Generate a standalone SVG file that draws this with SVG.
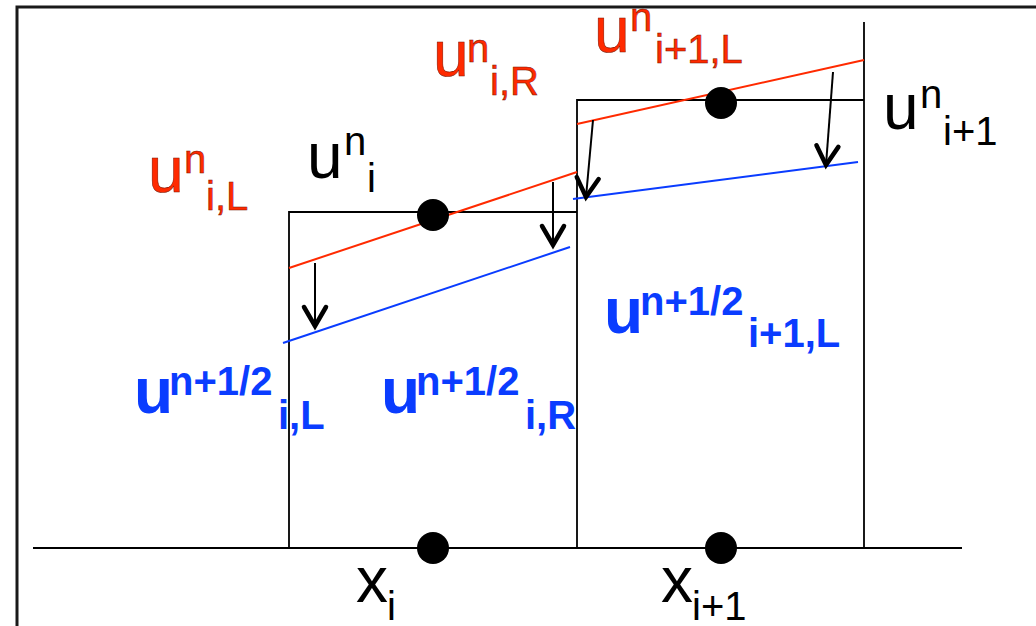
<svg xmlns="http://www.w3.org/2000/svg" width="1036" height="626" viewBox="0 0 1036 626">
<style>
text{font-family:"Liberation Sans",Arial,sans-serif}
.big{font-size:64px}
.sm{font-size:40px}
.blk{fill:#000}
.red{fill:#ff2a00;stroke:#7a1400;stroke-width:0.5}
.blu{fill:#0a3cff;font-weight:bold}
.box{fill:none;stroke:#000;stroke-width:1.8}
.rl{stroke:#ff2a00;stroke-width:2;fill:none}
.bl{stroke:#0a3cff;stroke-width:2;fill:none}
.arr{stroke:#000;stroke-width:2;fill:none;marker-end:url(#head)}
.dot{fill:#000}
</style>
<defs>
<marker id="head" markerUnits="userSpaceOnUse" markerWidth="40" markerHeight="40" viewBox="-30 -20 40 40" refX="0" refY="0" orient="auto" overflow="visible">
<path d="M-19,-11 L0,0 L-19,11" fill="none" stroke="#000" stroke-width="4.5" stroke-linecap="round" stroke-linejoin="miter"/>
</marker>
</defs>
<rect width="1036" height="626" fill="#fff"/>
<rect id="frame" x="17" y="7" width="1040" height="650" fill="none" stroke="#1a1a1a" stroke-width="3"/>

<g id="axis">
<line x1="33" y1="548" x2="962" y2="548" stroke="#000" stroke-width="2"/>
</g>

<g id="cell-i">
<polyline class="box" points="289,548 289,212 577,212"/>
</g>
<g id="cell-i1">
<polyline class="box" points="577,548 577,100 864,100"/>
<line class="box" x1="864" y1="22" x2="864" y2="548"/>
</g>

<g id="connectors">
<line class="rl" x1="289" y1="268" x2="577" y2="172"/>
<line class="rl" x1="577" y1="124" x2="864" y2="60"/>
<line class="bl" x1="283" y1="343" x2="570" y2="247"/>
<line class="bl" x1="573" y1="199" x2="858" y2="162"/>
<line class="arr" x1="315" y1="263" x2="315" y2="326"/>
<line class="arr" x1="553" y1="182" x2="553" y2="245"/>
<line class="arr" x1="593" y1="120" x2="586" y2="197"/>
<line class="arr" x1="833" y1="72" x2="826" y2="165"/>
</g>

<g id="dots">
<circle class="dot" cx="433" cy="215" r="16"/>
<circle class="dot" cx="721" cy="103" r="16"/>
<circle class="dot" cx="433" cy="548" r="16"/>
<circle class="dot" cx="721" cy="548" r="16"/>
</g>

<g id="label-uni" class="blk">
<text class="big" x="307" y="178">u</text>
<text class="sm" x="344" y="155">n</text>
<text class="sm" x="367" y="192">i</text>
</g>
<g id="label-uni1" class="blk">
<text class="big" x="883" y="129">u</text>
<text class="sm" x="920" y="108">n</text>
<text class="sm" x="943" y="145">i+1</text>
</g>

<g id="label-uniL" class="red">
<text class="big" x="148" y="192">u</text>
<text class="sm" x="184" y="173">n</text>
<text class="sm" x="206" y="210">i,L</text>
</g>
<g id="label-uniR" class="red">
<text class="big" x="433" y="76">u</text>
<text class="sm" x="467" y="62">n</text>
<text class="sm" x="490" y="95">i,R</text>
</g>
<g id="label-uni1L" class="red">
<text class="big" x="594" y="52">u</text>
<text class="sm" x="630" y="31">n</text>
<text class="sm" x="655" y="63">i+1,L</text>
</g>

<g id="label-uhiL" class="blu">
<text class="big" x="134" y="413">u</text>
<text class="sm" x="169" y="395">n+1/2</text>
<text class="sm" x="278" y="429">i,L</text>
</g>
<g id="label-uhiR" class="blu">
<text class="big" x="381" y="413">u</text>
<text class="sm" x="416" y="395">n+1/2</text>
<text class="sm" x="525" y="429">i,R</text>
</g>
<g id="label-uhi1L" class="blu">
<text class="big" x="604" y="333">u</text>
<text class="sm" x="640" y="315">n+1/2</text>
<text class="sm" x="748" y="347">i+1,L</text>
</g>

<g id="label-xi" class="blk">
<text class="big" x="356" y="602">x</text>
<text class="sm" x="387" y="620">i</text>
</g>
<g id="label-xi1" class="blk">
<text class="big" x="661" y="602">x</text>
<text class="sm" x="692" y="620">i+1</text>
</g>
</svg>
